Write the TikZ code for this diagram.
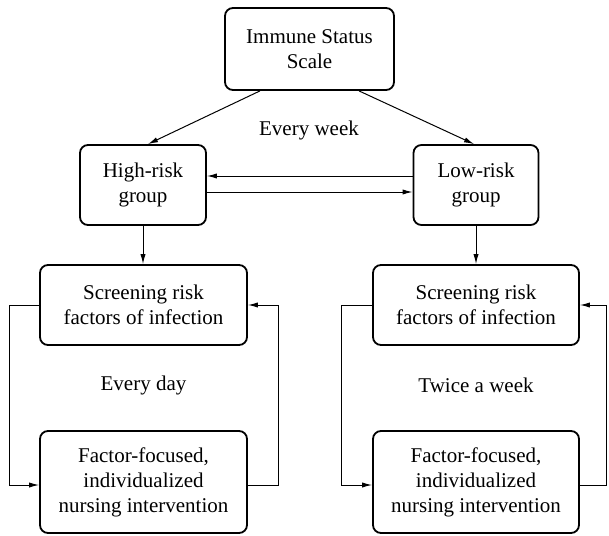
\documentclass[tikz,border=0pt]{standalone}
\usepackage{fontspec}
\setmainfont{Liberation Serif}
\usetikzlibrary{arrows.meta}
\tikzset{
    box/.style={draw, line width=0.9pt, rounded corners=4pt, align=center, inner sep=0pt,
        font=\fontsize{10.5}{12.5}\selectfont},
    lbl/.style={font=\fontsize{10.5}{12.5}\selectfont},
    arr/.style={-{Latex[length=5pt,width=2.6pt]}, line width=0.5pt}
}
\begin{document}
\begin{tikzpicture}[x=0.5pt, y=-0.5pt]
    \useasboundingbox (0,0) rectangle (609,535);
    \node[box, minimum width=84.5pt, minimum height=41pt] (scale) at (309.5,49) {Immune Status\\Scale};
    \node[box, minimum width=63pt, minimum height=40pt] (high) at (143,185) {High-risk\\group};
    \node[box, minimum width=62.5pt, minimum height=40pt] (low) at (476,185) {Low-risk\\group};
    \node[box, minimum width=103.5pt, minimum height=40pt] (scrL) at (143.5,305) {Screening risk\\factors of infection};
    \node[box, minimum width=103.5pt, minimum height=51pt] (facL) at (143.5,482) {Factor-focused,\\individualized\\nursing intervention};
    \node[box, minimum width=103pt, minimum height=40pt] (scrR) at (476,305) {Screening risk\\factors of infection};
    \node[box, minimum width=103pt, minimum height=51pt] (facR) at (476,482) {Factor-focused,\\individualized\\nursing intervention};
    \node[lbl] (week) at (309,130) {Every week};
    \node[lbl] (day) at (143.5,385) {Every day};
    \node[lbl] (twice) at (476,385) {Twice a week};
    \draw[arr] ([xshift=-24.75pt]scale.south) -- ([xshift=2.5pt]high.north);
    \draw[arr] ([xshift=24.75pt]scale.south) -- ([xshift=-1pt]low.north);
    \draw[arr] ([yshift=4.5pt]low.west) -- ([yshift=4.5pt]high.east);
    \draw[arr] ([yshift=-3.5pt]high.east) -- ([yshift=-3.5pt]low.west);
    \draw[arr] (high.south) -- (high.south |- scrL.north);
    \draw[arr] (low.south) -- (low.south |- scrR.north);
    \draw[arr] (scrL.west) -- ++(-15pt,0) |- ([yshift=-1.5pt]facL.west);
    \draw[arr] ([yshift=-1.5pt]facL.east) -- ++(15.5pt,0) |- (scrL.east);
    \draw[arr] (scrR.west) -- ++(-15.5pt,0) |- ([yshift=-1.5pt]facR.west);
    \draw[arr] ([yshift=-1.5pt]facR.east) -- ++(13.5pt,0) |- (scrR.east);
\end{tikzpicture}
\end{document}
